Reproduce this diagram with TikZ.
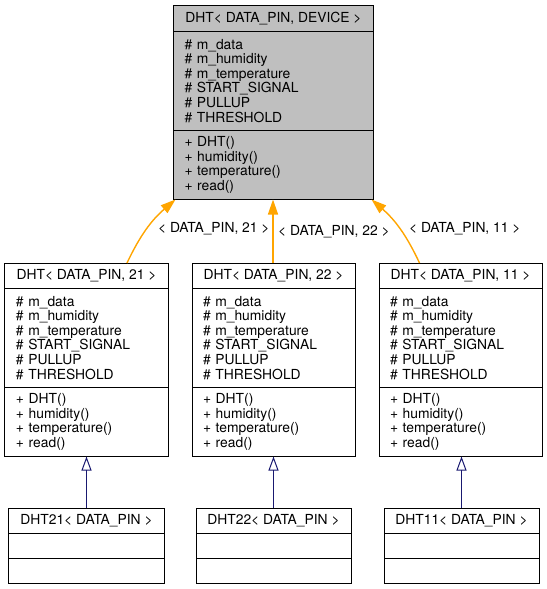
\documentclass[tikz,border=0pt]{standalone}
\usepackage{fontspec}
\setmainfont{TeX Gyre Heros}
\usepackage{tikz}
\usetikzlibrary{positioning}
\usetikzlibrary{arrows.meta}
\definecolor{doxgrey}{HTML}{BFBFBF}
\definecolor{doxorange}{HTML}{FFA500}
\definecolor{doxnavy}{HTML}{191970}
\tikzstyle{part} = [draw=black,line width=1bp,outer sep=0pt,inner sep=0pt,font=\fontsize{13.9}{14.6}\selectfont]
\tikzstyle{head} = [part,minimum height=25.5bp]
\tikzstyle{attr} = [part,align=left,inner xsep=11bp,minimum height=98.5bp]
\tikzstyle{meth} = [part,align=left,inner xsep=11bp,minimum height=69.5bp]
\tikzstyle{blank} = [part,minimum width=155bp,minimum height=25bp]
\tikzstyle{arrow} = [line width=1.4bp,draw=doxorange,-{Triangle[length=15bp,width=10bp]}]
\tikzstyle{openarrow} = [line width=1bp,draw=doxnavy,-{Triangle[open,length=14bp,width=10bp]}]
\tikzstyle{lbl} = [font=\fontsize{13.9}{14.6}\selectfont,inner sep=4bp]
\newcommand{\dhtfields}{\# m\_data\\\# m\_humidity\\\# m\_temperature\\\# START\_SIGNAL\\\# PULLUP\\\# THRESHOLD}
\newcommand{\dhtops}{+ DHT()\\+ humidity()\\+ temperature()\\+ read()}

\begin{document}
\begin{tikzpicture}[x=1bp,y=-1bp]
	\useasboundingbox (0,0) rectangle (547,589);
	%Nodes
	\node [head,fill=doxgrey,minimum width=200bp] (dht) at (273.5,18.75) {DHT< DATA\_PIN, DEVICE >};
	\node [attr,fill=doxgrey,text width=178bp,below=0pt of dht] (dht-a) {\dhtfields};
	\node [meth,fill=doxgrey,text width=178bp,below=0pt of dht-a] (dht-m) {\dhtops};
	
	\node [head,minimum width=163bp] (tmpl21) at (86.5,275.75) {DHT< DATA\_PIN, 21 >};
	\node [attr,text width=141bp,below=0pt of tmpl21] (tmpl21-a) {\dhtfields};
	\node [meth,text width=141bp,below=0pt of tmpl21-a] (tmpl21-m) {\dhtops};
	
	\node [head,minimum width=163bp] (tmpl22) at (273.5,275.75) {DHT< DATA\_PIN, 22 >};
	\node [attr,text width=141bp,below=0pt of tmpl22] (tmpl22-a) {\dhtfields};
	\node [meth,text width=141bp,below=0pt of tmpl22-a] (tmpl22-m) {\dhtops};
	
	\node [head,minimum width=163bp] (tmpl11) at (460.5,275.75) {DHT< DATA\_PIN, 11 >};
	\node [attr,text width=141bp,below=0pt of tmpl11] (tmpl11-a) {\dhtfields};
	\node [meth,text width=141bp,below=0pt of tmpl11-a] (tmpl11-m) {\dhtops};
	
	\node [blank] (dht21) at (86.5,520.5) {DHT21< DATA\_PIN >};
	\node [blank,below=0pt of dht21] (dht21-a) {};
	\node [blank,below=0pt of dht21-a] (dht21-m) {};
	
	\node [blank] (dht22) at (273.5,520.5) {DHT22< DATA\_PIN >};
	\node [blank,below=0pt of dht22] (dht22-a) {};
	\node [blank,below=0pt of dht22-a] (dht22-m) {};
	
	\node [blank] (dht11) at (461.5,520.5) {DHT11< DATA\_PIN >};
	\node [blank,below=0pt of dht11] (dht11-a) {};
	\node [blank,below=0pt of dht11-a] (dht11-m) {};
	
	%Lines
	\draw[arrow] ([xshift=40.5bp]tmpl21.north) to[bend left=12] node[lbl,right,xshift=6bp] {< DATA\_PIN, 21 >} ([xshift=2bp]dht-m.south west);
	\draw[arrow] ([xshift=-0.5bp]tmpl22.north) to node[lbl,right,xshift=0.5bp] {< DATA\_PIN, 22 >} ([xshift=-0.5bp]dht-m.south);
	\draw[arrow] ([xshift=-41bp]tmpl11.north) to[bend right=12] node[lbl,right,xshift=5bp] {< DATA\_PIN, 11 >} ([xshift=-2bp]dht-m.south east);
	
	\draw[openarrow] (dht21.north) -- (tmpl21-m.south);
	\draw[openarrow] (dht22.north) -- (tmpl22-m.south);
	\draw[openarrow] (dht11.north) -- (dht11.north |- tmpl11-m.south);
\end{tikzpicture}
\end{document}
